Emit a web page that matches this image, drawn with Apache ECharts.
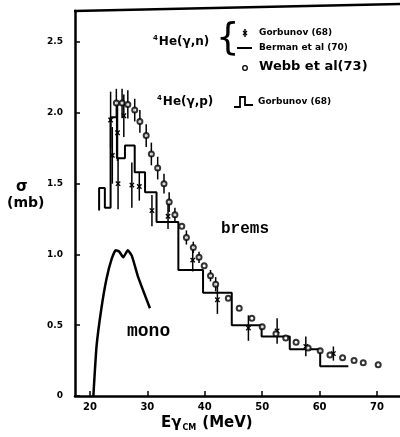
<!DOCTYPE html>
<html><head><meta charset="utf-8">
<script src="https://cdn.jsdelivr.net/npm/echarts@6/dist/echarts.min.js"></script>
<style>html,body{margin:0;padding:0;background:#fff}#c{width:400px;height:437px}</style>
</head><body><div id="c"></div>
<script>
// ---- data ----
const xTicks = [20, 30, 40, 50, 60, 70];
const yTicks = [0, 0.5, 1.0, 1.5, 2.0, 2.5];

// 4He(γ,p) Gorbunov (68) histogram: bin edges (MeV) and levels (mb)
const histEdges  = [21.6, 22.6, 23.6, 24.7, 26.1, 27.8, 29.6, 31.6, 35.4, 39.7, 44.7, 49.9, 54.8, 60.1, 65.0];
const histValues = [1.47, 1.33, 1.97, 1.68, 1.77, 1.58, 1.44, 1.23, 0.89, 0.73, 0.50, 0.42, 0.33, 0.21];
const histStart  = 1.31;

// mono curve
const monoE = [20.6, 21.15, 22.0, 22.9, 23.8, 24.5, 25.1, 25.8, 26.6, 27.3, 28.4, 30.45];
const monoS = [0, 0.35, 0.62, 0.83, 0.97, 1.03, 1.02, 0.98, 1.03, 0.99, 0.84, 0.62];

// Webb et al (73)
const webbE   = [24.6, 25.6, 26.6, 27.8, 28.7, 29.8, 30.7, 31.8, 32.9, 33.8, 34.8, 36.0, 36.8, 38.0, 39.0, 39.9, 41.0, 41.9, 44.1, 46.0, 48.2, 50.0, 52.4, 54.1, 55.9, 58.0, 60.1, 61.8, 64.0, 66.0, 67.6, 70.2];
const webbS   = [2.07, 2.07, 2.06, 2.02, 1.94, 1.84, 1.71, 1.61, 1.50, 1.37, 1.28, 1.20, 1.12, 1.05, 0.98, 0.92, 0.85, 0.79, 0.69, 0.62, 0.55, 0.49, 0.44, 0.41, 0.38, 0.34, 0.32, 0.29, 0.27, 0.25, 0.235, 0.22];
const webbErr = [0.10, 0.10, 0.10, 0.08, 0.08, 0.08, 0.08, 0.08, 0.07, 0.07, 0.05, 0, 0.05, 0.04, 0.04, 0, 0.04, 0.05, 0, 0, 0, 0, 0, 0, 0, 0, 0, 0, 0, 0, 0, 0];

// Gorbunov (68) 4He(γ,n)
const gorbE   = [23.6, 23.9, 24.8, 24.9, 25.9, 27.3, 28.6, 30.8, 33.6, 37.9, 42.2, 47.6, 52.6, 57.6, 62.4];
const gorbS   = [1.95, 1.70, 1.86, 1.50, 1.98, 1.49, 1.48, 1.31, 1.27, 0.96, 0.68, 0.48, 0.46, 0.35, 0.30];
const gorbErr = [0.20, 0.20, 0.20, 0.18, 0.15, 0.16, 0.10, 0.11, 0.09, 0.08, 0.10, 0.09, 0.09, 0.07, 0.05];

// ---- build ----
const histData = [[histEdges[0], histStart]];
for (let i = 0; i < histValues.length; i++) {
  histData.push([histEdges[i], histValues[i]]);
  histData.push([histEdges[i + 1], histValues[i]]);
}
const monoData = monoE.map((e, i) => [e, monoS[i]]);
const webbData = webbE.map((e, i) => [e, webbS[i], webbErr[i]]);
const gorbData = gorbE.map((e, i) => [e, gorbS[i], gorbErr[i]]);

const F = 'DejaVu Sans';
const chart = echarts.init(document.getElementById('c'), null, {renderer: 'canvas'});

function errBar(cross) {
  return function (params, api) {
    const x = api.value(0), y = api.value(1), e = api.value(2);
    const ch = [];
    if (e > 0) {
      const t = api.coord([x, y + e]), b = api.coord([x, y - e]);
      ch.push({type: 'line', shape: {x1: t[0], y1: t[1], x2: b[0], y2: b[1]}, style: {stroke: '#000', lineWidth: 1.5}});
    }
    if (cross) {
      const c = api.coord([x, y]);
      ch.push({type: 'line', shape: {x1: c[0] - 2.2, y1: c[1] - 2.2, x2: c[0] + 2.2, y2: c[1] + 2.2}, style: {stroke: '#000', lineWidth: 1.3}});
      ch.push({type: 'line', shape: {x1: c[0] - 2.2, y1: c[1] + 2.2, x2: c[0] + 2.2, y2: c[1] - 2.2}, style: {stroke: '#000', lineWidth: 1.3}});
    }
    return {type: 'group', children: ch};
  };
}

const option = {
  backgroundColor: '#fff',
  animation: false,
  grid: {left: 75, right: 0, top: 11, bottom: 41},
  xAxis: {
    type: 'value', min: 17.4, max: 74,
    axisLine: {show: true, onZero: false, lineStyle: {color: '#000', width: 2.5}},
    axisTick: {show: true, inside: true, length: 5, customValues: xTicks, lineStyle: {color: '#000', width: 1.5}},
    axisLabel: {customValues: xTicks, color: '#000', fontFamily: F, fontWeight: 'bold', fontSize: 10, margin: 6},
    splitLine: {show: false}
  },
  yAxis: {
    type: 'value', min: 0, max: 2.72,
    axisLine: {show: true, onZero: false, lineStyle: {color: '#000', width: 2.5}},
    axisTick: {show: true, inside: true, length: 5, customValues: yTicks, lineStyle: {color: '#000', width: 1.5}},
    axisLabel: {customValues: yTicks, color: '#000', fontFamily: F, fontWeight: 'bold', fontSize: 9, margin: 12,
      formatter: v => v === 0 ? '0' : v.toFixed(1)},
    splitLine: {show: false}
  },
  series: [
    {type: 'line', data: histData, symbol: 'none', lineStyle: {color: '#000', width: 2}, z: 2},
    {type: 'line', data: monoData, symbol: 'none', smooth: 0.15, lineStyle: {color: '#000', width: 2.5}, z: 2},
    {type: 'custom', data: gorbData, renderItem: errBar(true), z: 3},
    {type: 'custom', data: webbData, renderItem: errBar(false), z: 3},
    {type: 'scatter', data: webbData, symbol: 'emptyCircle', symbolSize: 5,
      itemStyle: {color: '#000', borderWidth: 1.2}, z: 4}
  ],
  graphic: [
    {type: 'line', shape: {x1: 74, y1: 11, x2: 400, y2: 4}, style: {stroke: '#000', lineWidth: 2.5}},
    // axis titles
    {type: 'text', left: 16, top: 180, style: {text: 'σ', font: 'bold 15px DejaVu Sans', fill: '#000'}},
    {type: 'text', left: 7, top: 196, style: {text: '(mb)', font: 'bold 14px DejaVu Sans', fill: '#000'}},
    {type: 'text', left: 161, top: 416, style: {
      rich: {
        e: {fontFamily: F, fontWeight: 'bold', fontSize: 15, fill: '#000'},
        g: {fontFamily: F, fontWeight: 'bold', fontSize: 15, fill: '#000'},
        s: {fontFamily: F, fontWeight: 'bold', fontSize: 8, fill: '#000', verticalAlign: 'bottom', padding: [8, 6, 0, 1]},
        m: {fontFamily: F, fontWeight: 'bold', fontSize: 15, fill: '#000'}
      },
      text: '{e|E}{g|γ}{s|CM}{m|(MeV)}'
    }},
    // legend block
    {type: 'text', left: 153, top: 35, style: {
      rich: {
        sup: {fontFamily: F, fontWeight: 'bold', fontSize: 7, fill: '#000', verticalAlign: 'top', padding: [0, 1, 6, 0]},
        t: {fontFamily: F, fontWeight: 'bold', fontSize: 12, fill: '#000'}
      },
      text: '{sup|4}{t|He(γ,n)}'
    }},
    {type: 'text', left: 216, top: 22, style: {text: '{', font: '37px DejaVu Sans', fill: '#000'}},
    {type: 'line', shape: {x1: 245, y1: 29, x2: 245, y2: 37}, style: {stroke: '#000', lineWidth: 1.5}},
    {type: 'line', shape: {x1: 243, y1: 31, x2: 247, y2: 35}, style: {stroke: '#000', lineWidth: 1.2}},
    {type: 'line', shape: {x1: 243, y1: 35, x2: 247, y2: 31}, style: {stroke: '#000', lineWidth: 1.2}},
    {type: 'text', left: 259, top: 28, style: {text: 'Gorbunov (68)', font: 'bold 9px DejaVu Sans', fill: '#000'}},
    {type: 'line', shape: {x1: 237, y1: 48, x2: 252, y2: 48}, style: {stroke: '#000', lineWidth: 2}},
    {type: 'text', left: 259, top: 43, style: {text: 'Berman et al (70)', font: 'bold 9px DejaVu Sans', fill: '#000'}},
    {type: 'circle', shape: {cx: 245, cy: 68, r: 2.3}, style: {stroke: '#000', fill: '#fff', lineWidth: 1.3}},
    {type: 'text', left: 259, top: 60, style: {text: 'Webb et al(73)', font: 'bold 13px DejaVu Sans', fill: '#000'}},
    {type: 'text', left: 157, top: 95, style: {
      rich: {
        sup: {fontFamily: F, fontWeight: 'bold', fontSize: 7, fill: '#000', verticalAlign: 'top', padding: [0, 1, 6, 0]},
        t: {fontFamily: F, fontWeight: 'bold', fontSize: 12, fill: '#000'}
      },
      text: '{sup|4}{t|He(γ,p)}'
    }},
    {type: 'polyline', shape: {points: [[234, 107], [240, 107], [240, 97], [245, 97], [245, 105], [253, 105]]}, style: {stroke: '#000', lineWidth: 1.8, fill: null}},
    {type: 'text', left: 258, top: 97, style: {text: 'Gorbunov (68)', font: 'bold 9px DejaVu Sans', fill: '#000'}},
    // curve labels
    {type: 'text', left: 221, top: 221, style: {text: 'brems', font: 'bold 16px Liberation Mono', fill: '#000'}},
    {type: 'text', left: 127, top: 322, style: {text: 'mono', font: 'bold 18px Liberation Mono', fill: '#000'}}
  ]
};
chart.setOption(option);
</script></body></html>
